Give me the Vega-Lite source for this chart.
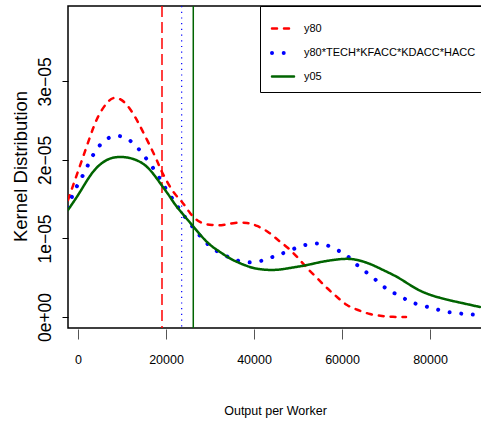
{
  "$schema": "https://vega.github.io/schema/vega-lite/v6.json",
  "autosize": "none",
  "padding": {"left": 68, "top": 6, "right": 0, "bottom": 95},
  "width": 414,
  "height": 322,
  "background": "white",
  "config": {
    "view": {"stroke": "black", "strokeWidth": 1.5},
    "font": "Liberation Sans"
  },
  "datasets": {
    "curves": [
      {"series": "y80", "x": -2273, "density": 1.49e-5},
      {"series": "y80", "x": -682, "density": 1.745e-5},
      {"series": "y80", "x": 909, "density": 2.0e-5},
      {"series": "y80", "x": 2727, "density": 2.293e-5},
      {"series": "y80", "x": 4545, "density": 2.548e-5},
      {"series": "y80", "x": 6591, "density": 2.726e-5},
      {"series": "y80", "x": 8409, "density": 2.79e-5},
      {"series": "y80", "x": 10682, "density": 2.726e-5},
      {"series": "y80", "x": 12955, "density": 2.548e-5},
      {"series": "y80", "x": 14773, "density": 2.357e-5},
      {"series": "y80", "x": 16818, "density": 2.127e-5},
      {"series": "y80", "x": 18182, "density": 1.96e-5},
      {"series": "y80", "x": 19318, "density": 1.82e-5},
      {"series": "y80", "x": 21591, "density": 1.6e-5},
      {"series": "y80", "x": 23636, "density": 1.465e-5},
      {"series": "y80", "x": 25455, "density": 1.325e-5},
      {"series": "y80", "x": 27727, "density": 1.21e-5},
      {"series": "y80", "x": 30455, "density": 1.172e-5},
      {"series": "y80", "x": 32955, "density": 1.172e-5},
      {"series": "y80", "x": 35682, "density": 1.197e-5},
      {"series": "y80", "x": 38409, "density": 1.197e-5},
      {"series": "y80", "x": 40682, "density": 1.16e-5},
      {"series": "y80", "x": 43182, "density": 1.083e-5},
      {"series": "y80", "x": 45455, "density": 0.981e-5},
      {"series": "y80", "x": 47727, "density": 0.879e-5},
      {"series": "y80", "x": 50000, "density": 0.752e-5},
      {"series": "y80", "x": 52045, "density": 0.624e-5},
      {"series": "y80", "x": 54318, "density": 0.497e-5},
      {"series": "y80", "x": 56591, "density": 0.369e-5},
      {"series": "y80", "x": 58864, "density": 0.255e-5},
      {"series": "y80", "x": 61136, "density": 0.153e-5},
      {"series": "y80", "x": 63636, "density": 0.089e-5},
      {"series": "y80", "x": 66364, "density": 0.038e-5},
      {"series": "y80", "x": 69091, "density": 0.013e-5},
      {"series": "y80", "x": 71591, "density": 0.002e-5},
      {"series": "y80", "x": 74545, "density": 0.0},
      {"series": "y80*TECH*KFACC*KDACC*HACC", "x": -2273, "density": 1.389e-5},
      {"series": "y80*TECH*KFACC*KDACC*HACC", "x": -909, "density": 1.592e-5},
      {"series": "y80*TECH*KFACC*KDACC*HACC", "x": 909, "density": 1.783e-5},
      {"series": "y80*TECH*KFACC*KDACC*HACC", "x": 2500, "density": 1.962e-5},
      {"series": "y80*TECH*KFACC*KDACC*HACC", "x": 4318, "density": 2.14e-5},
      {"series": "y80*TECH*KFACC*KDACC*HACC", "x": 6591, "density": 2.268e-5},
      {"series": "y80*TECH*KFACC*KDACC*HACC", "x": 9091, "density": 2.306e-5},
      {"series": "y80*TECH*KFACC*KDACC*HACC", "x": 11591, "density": 2.255e-5},
      {"series": "y80*TECH*KFACC*KDACC*HACC", "x": 13864, "density": 2.134e-5},
      {"series": "y80*TECH*KFACC*KDACC*HACC", "x": 15909, "density": 1.987e-5},
      {"series": "y80*TECH*KFACC*KDACC*HACC", "x": 17955, "density": 1.822e-5},
      {"series": "y80*TECH*KFACC*KDACC*HACC", "x": 19773, "density": 1.65e-5},
      {"series": "y80*TECH*KFACC*KDACC*HACC", "x": 21818, "density": 1.478e-5},
      {"series": "y80*TECH*KFACC*KDACC*HACC", "x": 23636, "density": 1.325e-5},
      {"series": "y80*TECH*KFACC*KDACC*HACC", "x": 25909, "density": 1.159e-5},
      {"series": "y80*TECH*KFACC*KDACC*HACC", "x": 27955, "density": 1.019e-5},
      {"series": "y80*TECH*KFACC*KDACC*HACC", "x": 30227, "density": 0.892e-5},
      {"series": "y80*TECH*KFACC*KDACC*HACC", "x": 32727, "density": 0.803e-5},
      {"series": "y80*TECH*KFACC*KDACC*HACC", "x": 35227, "density": 0.739e-5},
      {"series": "y80*TECH*KFACC*KDACC*HACC", "x": 37727, "density": 0.701e-5},
      {"series": "y80*TECH*KFACC*KDACC*HACC", "x": 40455, "density": 0.701e-5},
      {"series": "y80*TECH*KFACC*KDACC*HACC", "x": 42955, "density": 0.739e-5},
      {"series": "y80*TECH*KFACC*KDACC*HACC", "x": 45455, "density": 0.79e-5},
      {"series": "y80*TECH*KFACC*KDACC*HACC", "x": 47955, "density": 0.841e-5},
      {"series": "y80*TECH*KFACC*KDACC*HACC", "x": 50682, "density": 0.904e-5},
      {"series": "y80*TECH*KFACC*KDACC*HACC", "x": 53182, "density": 0.93e-5},
      {"series": "y80*TECH*KFACC*KDACC*HACC", "x": 55682, "density": 0.93e-5},
      {"series": "y80*TECH*KFACC*KDACC*HACC", "x": 58409, "density": 0.866e-5},
      {"series": "y80*TECH*KFACC*KDACC*HACC", "x": 60909, "density": 0.79e-5},
      {"series": "y80*TECH*KFACC*KDACC*HACC", "x": 63182, "density": 0.675e-5},
      {"series": "y80*TECH*KFACC*KDACC*HACC", "x": 65455, "density": 0.573e-5},
      {"series": "y80*TECH*KFACC*KDACC*HACC", "x": 67955, "density": 0.459e-5},
      {"series": "y80*TECH*KFACC*KDACC*HACC", "x": 70227, "density": 0.357e-5},
      {"series": "y80*TECH*KFACC*KDACC*HACC", "x": 72727, "density": 0.28e-5},
      {"series": "y80*TECH*KFACC*KDACC*HACC", "x": 75227, "density": 0.204e-5},
      {"series": "y80*TECH*KFACC*KDACC*HACC", "x": 77727, "density": 0.153e-5},
      {"series": "y80*TECH*KFACC*KDACC*HACC", "x": 80455, "density": 0.115e-5},
      {"series": "y80*TECH*KFACC*KDACC*HACC", "x": 82955, "density": 0.076e-5},
      {"series": "y80*TECH*KFACC*KDACC*HACC", "x": 85682, "density": 0.051e-5},
      {"series": "y80*TECH*KFACC*KDACC*HACC", "x": 88182, "density": 0.038e-5},
      {"series": "y80*TECH*KFACC*KDACC*HACC", "x": 90909, "density": 0.025e-5},
      {"series": "y05", "x": -2273, "density": 1.363e-5},
      {"series": "y05", "x": 455, "density": 1.592e-5},
      {"series": "y05", "x": 3409, "density": 1.847e-5},
      {"series": "y05", "x": 6591, "density": 2.0e-5},
      {"series": "y05", "x": 9545, "density": 2.038e-5},
      {"series": "y05", "x": 12500, "density": 2.013e-5},
      {"series": "y05", "x": 15682, "density": 1.911e-5},
      {"series": "y05", "x": 18636, "density": 1.707e-5},
      {"series": "y05", "x": 20909, "density": 1.529e-5},
      {"series": "y05", "x": 22500, "density": 1.401e-5},
      {"series": "y05", "x": 25909, "density": 1.172e-5},
      {"series": "y05", "x": 29318, "density": 0.955e-5},
      {"series": "y05", "x": 32273, "density": 0.828e-5},
      {"series": "y05", "x": 35227, "density": 0.726e-5},
      {"series": "y05", "x": 38409, "density": 0.65e-5},
      {"series": "y05", "x": 40682, "density": 0.615e-5},
      {"series": "y05", "x": 44318, "density": 0.599e-5},
      {"series": "y05", "x": 48182, "density": 0.624e-5},
      {"series": "y05", "x": 52045, "density": 0.662e-5},
      {"series": "y05", "x": 55682, "density": 0.705e-5},
      {"series": "y05", "x": 60227, "density": 0.739e-5},
      {"series": "y05", "x": 63409, "density": 0.726e-5},
      {"series": "y05", "x": 66364, "density": 0.675e-5},
      {"series": "y05", "x": 69318, "density": 0.599e-5},
      {"series": "y05", "x": 72500, "density": 0.51e-5},
      {"series": "y05", "x": 75455, "density": 0.408e-5},
      {"series": "y05", "x": 78409, "density": 0.318e-5},
      {"series": "y05", "x": 81591, "density": 0.255e-5},
      {"series": "y05", "x": 84545, "density": 0.212e-5},
      {"series": "y05", "x": 87500, "density": 0.175e-5},
      {"series": "y05", "x": 91364, "density": 0.127e-5}
    ],
    "means": [
      {"series": "y80", "mean": 19090},
      {"series": "y80*TECH*KFACC*KDACC*HACC", "mean": 23560},
      {"series": "y05", "mean": 26200}
    ]
  },
  "layer": [
    {
      "data": {"name": "means"},
      "transform": [{"filter": "datum.series == 'y80'"}],
      "mark": {"type": "rule", "color": "#FF0000", "strokeWidth": 1.5, "strokeDash": [11, 5]},
      "encoding": {"x": {"field": "mean", "type": "quantitative"}}
    },
    {
      "data": {"name": "means"},
      "transform": [{"filter": "datum.series == 'y80*TECH*KFACC*KDACC*HACC'"}],
      "mark": {"type": "rule", "color": "#0000FF", "strokeWidth": 1.2, "strokeDash": [1.2, 4.5]},
      "encoding": {"x": {"field": "mean", "type": "quantitative"}}
    },
    {
      "data": {"name": "means"},
      "transform": [{"filter": "datum.series == 'y05'"}],
      "mark": {"type": "rule", "color": "#006400", "strokeWidth": 1.5},
      "encoding": {"x": {"field": "mean", "type": "quantitative"}}
    },
    {
      "data": {"name": "curves"},
      "mark": {"type": "line", "clip": true, "strokeCap": "round", "interpolate": "natural"},
      "encoding": {
        "x": {
          "field": "x", "type": "quantitative",
          "scale": {"domain": [-2273, 91818], "nice": false, "zero": false},
          "axis": {
            "values": [0, 20000, 40000, 60000, 80000], "format": "d",
            "grid": false, "domain": false, "offset": 1,
            "tickSize": 10, "tickColor": "#555", "tickWidth": 1,
            "labelFont": "Liberation Sans", "labelFontSize": 12.5,
            "labelColor": "black", "labelPadding": 14,
            "title": "Output per Worker",
            "titleFont": "Liberation Sans", "titleFontSize": 12.5,
            "titleFontWeight": "normal", "titleColor": "black",
            "titleX": 207, "titleY": 81, "titleBaseline": "middle", "titleAlign": "center"
          }
        },
        "y": {
          "field": "density", "type": "quantitative",
          "scale": {"domain": [-0.0000014, 0.0000396], "nice": false, "zero": false},
          "axis": {
            "values": [0, 0.00001, 0.00002, 0.00003],
            "labelExpr": "datum.value == 0 ? '0e+00' : format(datum.value * 100000, '.0f') + 'e\u221205'",
            "grid": false, "domain": false,
            "tickSize": 6, "tickColor": "black", "tickWidth": 1,
            "labelAngle": -90, "labelAlign": "center", "labelBaseline": "bottom",
            "labelPadding": 8, "labelFont": "Liberation Sans", "labelFontSize": 17.5,
            "labelColor": "black",
            "title": "Kernel Distribution",
            "titleFont": "Liberation Sans", "titleFontSize": 18.5,
            "titleFontWeight": "normal", "titleColor": "black",
            "titleAngle": -90, "titleX": -48, "titleY": 160,
            "titleBaseline": "middle", "titleAlign": "center"
          }
        },
        "color": {
          "field": "series", "type": "nominal",
          "scale": {
            "domain": ["y80", "y80*TECH*KFACC*KDACC*HACC", "y05"],
            "range": ["#FF0000", "#0000FF", "#006400"]
          },
          "legend": {
            "orient": "none", "legendX": 192, "legendY": 0,
            "title": null, "symbolType": "stroke", "symbolSize": 484,
            "padding": 10, "rowPadding": 3, "labelOffset": 8,
            "gridAlign": "all",
            "strokeColor": "black", "fillColor": "white", "cornerRadius": 0,
            "labelFont": "Liberation Sans", "labelFontSize": 11,
            "labelColor": "black", "labelLimit": 400,
            "symbolStrokeWidth": 2.5,
            "encode": {
              "symbols": {
                "update": {
                  "strokeCap": {"value": "round"},
                  "strokeWidth": {"value": 2.5},
                  "strokeDash": {"signal": "datum.value === 'y80' ? [5, 7] : datum.value === 'y05' ? [1, 0] : [0.01, 6]"}
                }
              }
            }
          }
        },
        "strokeDash": {
          "field": "series", "type": "nominal",
          "scale": {
            "domain": ["y80", "y80*TECH*KFACC*KDACC*HACC", "y05"],
            "range": [[5, 7], [0.01, 11.7], [1, 0]]
          },
          "legend": null
        },
        "strokeWidth": {
          "field": "series", "type": "nominal",
          "scale": {
            "type": "ordinal",
            "domain": ["y80", "y80*TECH*KFACC*KDACC*HACC", "y05"],
            "range": [2.5, 4, 2.5]
          },
          "legend": null
        }
      }
    }
  ]
}
